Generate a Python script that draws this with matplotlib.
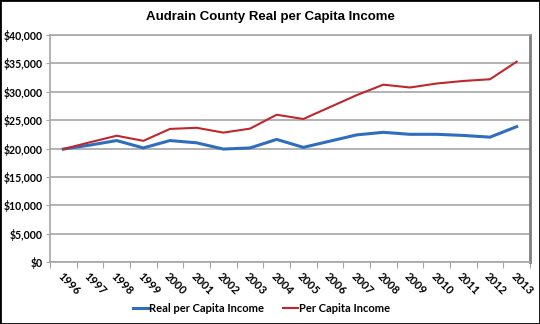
import numpy as np
import matplotlib.pyplot as plt
from matplotlib.ticker import FuncFormatter, FixedLocator
from matplotlib.patches import Rectangle

anos = [str(a) for a in range(1996, 2014)]
renda_real = [19900, 20600, 21400, 20100, 21400, 21000, 19900, 20100, 21600, 20200,
              21300, 22400, 22850, 22500, 22500, 22300, 22000, 23850]
renda_nominal = [19900, 21100, 22250, 21350, 23450, 23650, 22800, 23500, 25950, 25200,
                 27300, 29400, 31250, 30750, 31450, 31900, 32200, 35300]

fig = plt.figure(figsize=(5.4, 3.24), dpi=100)
ax = fig.add_axes([50 / 540, 1 - 262 / 324, 480 / 540, 227 / 324])

x = np.arange(len(anos))
ax.plot(x, renda_real, color='#2F6EBF', linewidth=2.2, label='Real per Capita Income')
ax.plot(x, renda_nominal, color='#C0272D', linewidth=1.5, label='Per Capita Income')

ax.set_xlim(-0.5, len(anos) - 0.5)
ax.set_ylim(0, 40000)
ax.set_yticks(range(0, 40001, 5000))
ax.yaxis.set_major_formatter(FuncFormatter(lambda v, p: '${:,.0f}'.format(v)))
ax.grid(axis='y', color='#A6A6A6', linewidth=1.2)
ax.set_axisbelow(True)

# ticks between categories, labels centred on each year
ax.xaxis.set_major_locator(FixedLocator(np.arange(-0.5, len(anos), 1)))
ax.set_xticklabels([])
ax.xaxis.set_minor_locator(FixedLocator(x))
ax.set_xticklabels(anos, minor=True, rotation=-45, ha='left', va='top',
                   rotation_mode='anchor', fontsize=8, fontweight='bold',
                   family='Lato')
ax.tick_params(axis='x', which='minor', length=0, pad=6)
ax.tick_params(axis='x', which='major', length=4, color='#A6A6A6')
ax.tick_params(axis='y', length=3, pad=2, color='#A6A6A6', labelsize=7.6)
for lab in ax.get_yticklabels():
    lab.set_fontweight('bold')
    lab.set_family('Lato')

for lado in ['left', 'bottom', 'top']:
    ax.spines[lado].set_color('#A6A6A6')
    ax.spines[lado].set_linewidth(1.2)
ax.spines['right'].set_color('#7F7F7F')
ax.spines['right'].set_linewidth(2)

fig.text(0.5, 1 - 17 / 324, 'Audrain County Real per Capita Income', ha='center', va='center',
         fontsize=9.5, fontweight='bold', family='Liberation Sans')

leg = fig.legend(loc='center', bbox_to_anchor=(0.485, 1 - 308 / 324), ncol=2, frameon=False,
                 prop={'family': 'Lato', 'weight': 'bold', 'size': 8},
                 handlelength=1.3, handletextpad=0.15, columnspacing=1.7)

fig.patches.append(Rectangle((0, 0), 1, 1, transform=fig.transFigure, fill=False,
                             edgecolor='black', linewidth=2))

fig.savefig('out.png', dpi=100)
